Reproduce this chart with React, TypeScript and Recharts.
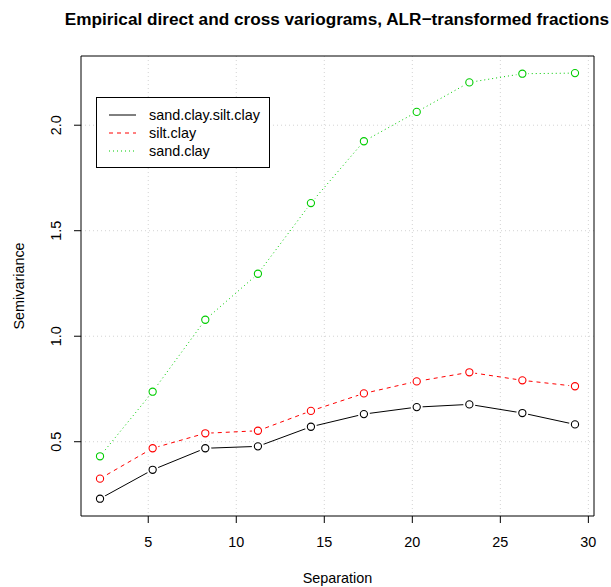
import React from 'react';
import { LineChart, Line, XAxis, YAxis, CartesianGrid, ReferenceArea } from 'recharts';

// lag distances and semivariances
const separation = [2.26, 5.25, 8.24, 11.23, 14.24, 17.25, 20.25, 23.24, 26.25, 29.24];
const sandClaySiltClay = [0.23, 0.367, 0.469, 0.478, 0.571, 0.631, 0.664, 0.677, 0.636, 0.582];
const siltClay = [0.325, 0.469, 0.54, 0.552, 0.646, 0.729, 0.786, 0.829, 0.791, 0.763];
const sandClay = [0.431, 0.737, 1.078, 1.296, 1.631, 1.924, 2.063, 2.203, 2.244, 2.247];

const xTicks = [5, 10, 15, 20, 25, 30];
const yTicks = [0.5, 1.0, 1.5, 2.0];
const xDomain = [1.18, 30.32];
const yDomain = [0.148, 2.328];

const seriesNames = ['sand.clay.silt.clay', 'silt.clay', 'sand.clay'];

const FONT = 'Liberation Sans, Arial, Helvetica, sans-serif';

const series = [
  { key: 'scsc', name: seriesNames[0], color: '#000000', dash: undefined },
  { key: 'sc', name: seriesNames[1], color: '#FF0000', dash: '4 4' },
  { key: 'sandc', name: seriesNames[2], color: '#00CD00', dash: '1 3' },
];

const data = separation.map((s, i) => ({
  sep: s,
  scsc: sandClaySiltClay[i],
  sc: siltClay[i],
  sandc: sandClay[i],
}));

// R type="b": open circle with a small gap in the line around it
const makeDot = (color: string) => (props: any) => {
  const { cx, cy, index } = props;
  return (
    <g key={`dot-${color}-${index}`}>
      <circle cx={cx} cy={cy} r={6} fill="#ffffff" stroke="none" />
      <circle cx={cx} cy={cy} r={3.6} fill="none" stroke={color} strokeWidth={1.1} />
    </g>
  );
};

const YTick = (props: any) => {
  const { x, y, payload } = props;
  const bx = x - 11;
  return (
    <text
      x={bx}
      y={y}
      transform={`rotate(-90, ${bx}, ${y})`}
      textAnchor="middle"
      fontSize={14.4}
      fontFamily={FONT}
      fill="#000"
    >
      {payload.value.toFixed(1)}
    </text>
  );
};

export default function App() {
  return (
    <div style={{ position: 'absolute', left: 0, top: 0, width: 611, height: 587, background: '#fff' }}>
      <LineChart
        width={611}
        height={587}
        data={data}
        margin={{ top: 56, right: 17, bottom: 31, left: 21 }}
      >
        <CartesianGrid
          stroke="#D3D3D3"
          strokeDasharray="1 3"
          verticalValues={xTicks}
          horizontalValues={yTicks}
        />
        <XAxis
          dataKey="sep"
          type="number"
          domain={xDomain}
          allowDataOverflow
          ticks={xTicks}
          height={40}
          axisLine={false}
          tickLine={{ stroke: '#000' }}
          tickSize={7}
          tickMargin={14}
          tick={{ fontSize: 14.4, fontFamily: FONT, fill: '#000' }}
        />
        <YAxis
          type="number"
          domain={yDomain}
          allowDataOverflow
          ticks={yTicks}
          width={60}
          axisLine={false}
          tickLine={{ stroke: '#000' }}
          tickSize={7}
          tickMargin={2}
          tick={<YTick />}
        />
        <ReferenceArea
          x1={xDomain[0]}
          x2={xDomain[1]}
          y1={yDomain[0]}
          y2={yDomain[1]}
          fill="none"
          fillOpacity={0}
          stroke="#000"
          strokeWidth={1}
        />
        {series.map((s) => (
          <Line
            key={s.key}
            dataKey={s.key}
            name={s.name}
            type="linear"
            stroke={s.color}
            strokeWidth={1}
            strokeDasharray={s.dash}
            dot={makeDot(s.color)}
            activeDot={false}
            isAnimationActive={false}
          />
        ))}
      </LineChart>

      <div
        style={{
          position: 'absolute',
          left: 0,
          top: 9,
          width: 674,
          textAlign: 'center',
          fontFamily: FONT,
          fontWeight: 'bold',
          fontSize: 17.2,
          whiteSpace: 'nowrap',
        }}
      >
        Empirical direct and cross variograms, ALR−transformed fractions
      </div>

      <div
        style={{
          position: 'absolute',
          left: 81,
          width: 513,
          top: 570,
          textAlign: 'center',
          fontFamily: FONT,
          fontSize: 14.4,
        }}
      >
        Separation
      </div>

      <svg style={{ position: 'absolute', left: 0, top: 0 }} width={40} height={587}>
        <text
          x={24}
          y={286}
          transform="rotate(-90, 24, 286)"
          textAnchor="middle"
          fontFamily={FONT}
          fontSize={14.4}
          fill="#000"
        >
          Semivariance
        </text>
      </svg>

      <svg style={{ position: 'absolute', left: 96, top: 97 }} width={175} height={72}>
        <rect x={0.5} y={0.5} width={173} height={70} fill="#fff" stroke="#000" strokeWidth={1} />
        {series.map((s, i) => {
          const y = 18 + i * 18;
          return (
            <g key={s.key}>
              <line x1={13} x2={40} y1={y} y2={y} stroke={s.color} strokeWidth={1} strokeDasharray={s.dash} />
              <text x={53} y={y + 5} fontFamily={FONT} fontSize={14.4} fill="#000">
                {s.name}
              </text>
            </g>
          );
        })}
      </svg>
    </div>
  );
}
